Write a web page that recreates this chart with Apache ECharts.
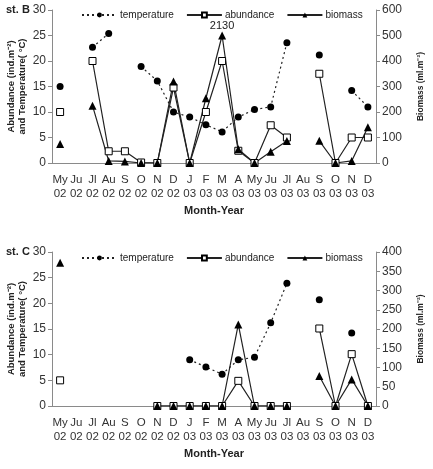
<!DOCTYPE html>
<html>
<head>
<meta charset="utf-8">
<script src="https://cdn.jsdelivr.net/npm/echarts@6/dist/echarts.min.js"></script>
<style>
  html, body { margin: 0; padding: 0; background: #fff; }
  #chart { width: 433px; height: 469px; }
</style>
</head>
<body>
<div id="chart"></div>
<script>
const months = ['My','Ju','Jl','Au','S','O','N','D','J','F','M','A','My','Ju','Jl','Au','S','O','N','D'];
const years  = ['02','02','02','02','02','02','02','02','03','03','03','03','03','03','03','03','03','03','03','03'];
const categories = months.map((m, i) => m + '\n' + years[i]);

// st. B
const tempB    = [15, null, 22.7, 25.4, null, 18.9, 16.1, 10, 9, 7.5, 6.1, 9, 10.5, 11, 23.6, null, 21.2, null, 14.2, 11];
const abundB   = [10, null, 20, 2.3, 2.3, 0.1, 0, 14.8, 0, 10, 20, 2.4, 0, 7.4, 5, null, 17.5, 0, 5, 5];
const biomassB = [75, null, 225, 8, 6, 0, 0, 320, 0, 254, 500, 54, 0, 44, 86, null, 87, 0, 8, 140];
const peakIndexB = 10, peakLabelB = '2130';

// st. C
const tempC    = [null, null, null, null, null, null, null, null, 9, 7.6, 6.2, 9, 9.5, 16.2, 23.9, null, 20.7, null, 14.2, null];
const abundC   = [5, null, null, null, null, null, 0, 0, 0, 0, 0, 4.9, 0, 0, 0, null, 15.1, 0, 10.1, 0];
const biomassC = [372, null, null, null, null, null, 0, 0, 0, 0, 0, 212, 0, 0, 0, null, 78, 0, 69, 0];

const chart = echarts.init(document.getElementById('chart'));
const FONT = 'Liberation Sans, Arial, sans-serif';
const axisGray = '#8a8a8a';

function xAxis(gridIndex) {
    return {
        type: 'category', gridIndex: gridIndex, data: categories,
        name: 'Month-Year', nameLocation: 'middle', nameGap: 42,
        nameTextStyle: { fontWeight: 'bold', fontSize: 11, color: '#222', fontFamily: FONT },
        axisLine: { lineStyle: { color: axisGray } },
        axisTick: { length: 4, lineStyle: { color: axisGray } },
        axisLabel: { interval: 0, fontSize: 11.5, lineHeight: 14, color: '#333', fontFamily: FONT, margin: 10 }
    };
}
function leftAxis(gridIndex) {
    return {
        type: 'value', gridIndex: gridIndex, min: 0, max: 30, interval: 5,
        name: 'Abundance (ind.m⁻²)\nand Temperature( °C)', nameLocation: 'middle', nameGap: 24,
        nameMoveOverlap: false,
        nameTextStyle: { fontWeight: 'bold', fontSize: 9.5, lineHeight: 11, color: '#222', fontFamily: FONT },
        axisLine: { show: true, lineStyle: { color: axisGray } },
        axisTick: { show: true, length: 4, lineStyle: { color: axisGray } },
        axisLabel: { fontSize: 12, color: '#333', fontFamily: FONT, margin: 6 },
        splitLine: { show: false }
    };
}
function rightAxis(gridIndex, max, interval) {
    return {
        type: 'value', gridIndex: gridIndex, position: 'right', min: 0, max: max, interval: interval,
        name: 'Biomass (ml.m⁻²)', nameLocation: 'middle', nameGap: 40, nameRotate: 90,
        nameTextStyle: { fontWeight: 'bold', fontSize: 8.5, color: '#222', fontFamily: FONT },
        axisLine: { show: true, lineStyle: { color: axisGray } },
        axisTick: { show: true, length: 4, lineStyle: { color: axisGray } },
        axisLabel: { fontSize: 12, color: '#333', fontFamily: FONT, margin: 6 },
        splitLine: { show: false }
    };
}
function legend(top) {
    return {
        top: top, left: 76, itemWidth: 35, itemHeight: 6, itemGap: 12,
        data: ['temperature', 'abundance', 'biomass'],
        textStyle: { fontSize: 10, color: '#222', fontFamily: FONT, padding: [0, 0, 0, -2] }
    };
}
function seriesFor(xi, yl, yr, temp, abund, bio, peak) {
    return [
        {
            name: 'temperature', type: 'line', xAxisIndex: xi, yAxisIndex: yl, data: temp,
            symbol: 'circle', symbolSize: 7, connectNulls: false,
            itemStyle: { color: '#000' },
            lineStyle: { color: '#222', width: 1.2, type: [2, 3] }
        },
        {
            name: 'abundance', type: 'line', xAxisIndex: xi, yAxisIndex: yl, data: abund,
            symbol: 'rect', symbolSize: 7, connectNulls: false,
            itemStyle: { color: '#fff', borderColor: '#000', borderWidth: 1 },
            lineStyle: { color: '#222', width: 1.2 }
        },
        {
            name: 'biomass', type: 'line', xAxisIndex: xi, yAxisIndex: yr,
            data: bio.map((v, i) => peak && i === peak.index
                ? { value: v, label: { show: true, position: 'top', distance: 0, formatter: peak.text, fontSize: 11, color: '#222', fontFamily: FONT } }
                : v),
            symbol: 'triangle', symbolSize: 8, connectNulls: false,
            itemStyle: { color: '#000' },
            lineStyle: { color: '#222', width: 1.2 }
        }
    ];
}

chart.setOption({
    animation: false,
    textStyle: { fontFamily: FONT },
    grid: [
        { left: 52, right: 57, top: 10, height: 153, outerBoundsMode: 'none' },
        { left: 52, right: 57, top: 252, height: 154, outerBoundsMode: 'none' }
    ],
    legend: [legend(5), legend(248)],
    xAxis: [xAxis(0), xAxis(1)],
    yAxis: [leftAxis(0), rightAxis(0, 600, 100), leftAxis(1), rightAxis(1, 400, 50)],
    graphic: [
        { type: 'text', left: 6, top: 4, style: { text: 'st. B', fontWeight: 'bold', fontSize: 11, fill: '#222', fontFamily: FONT } },
        { type: 'text', left: 6, top: 246, style: { text: 'st. C', fontWeight: 'bold', fontSize: 11, fill: '#222', fontFamily: FONT } }
    ],
    series: [
        ...seriesFor(0, 0, 1, tempB, abundB, biomassB, { index: peakIndexB, text: peakLabelB }),
        ...seriesFor(1, 2, 3, tempC, abundC, biomassC, null)
    ]
});
</script>
</body>
</html>
